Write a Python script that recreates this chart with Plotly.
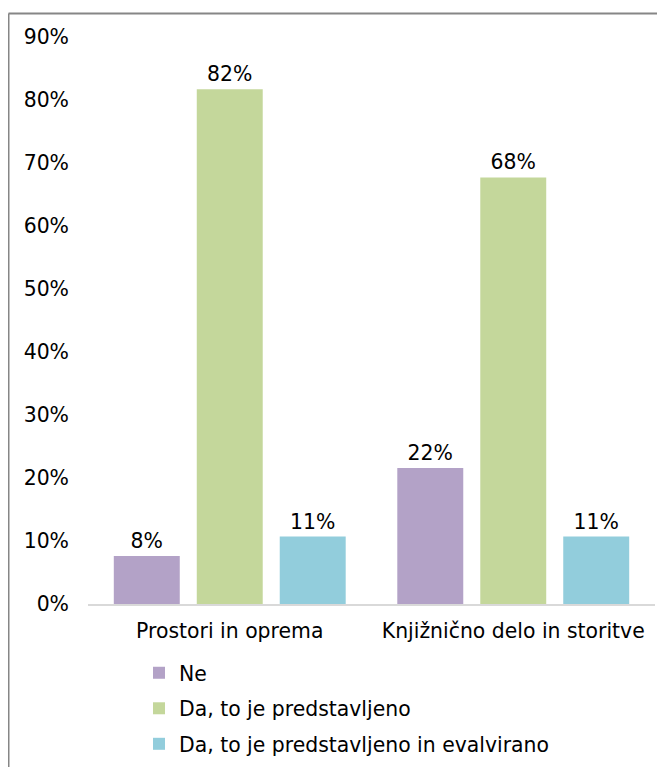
import plotly.graph_objects as go

categories = ["Prostori in oprema", "Knjižnično delo in storitve"]
series_names = ["Ne", "Da, to je predstavljeno", "Da, to je predstavljeno in evalvirano"]
ne_values = [7.6, 21.6]
da_values = [81.7, 67.7]
da_eval_values = [10.7, 10.7]
tick_vals = [0, 10, 20, 30, 40, 50, 60, 70, 80, 90]
tick_text = ["0%", "10%", "20%", "30%", "40%", "50%", "60%", "70%", "80%", "90%"]
colors = ["#B3A2C7", "#C4D79B", "#92CDDC"]

FONT = "DejaVu Sans"
FS = 20.4

fig = go.Figure()
for i, (name, vals) in enumerate(zip(series_names, [ne_values, da_values, da_eval_values])):
    fig.add_trace(go.Bar(
        x=categories, y=vals, name=name,
        marker=dict(color=colors[i], line=dict(width=0)),
        texttemplate="%{y:.0f}%", textposition="outside",
        textfont=dict(family=FONT, size=FS, color="#000000"),
        cliponaxis=False,
        legendgroup=f"g{i}",
    ))

# page has an 8px body margin: figure coords = page coords - 8
OFF = 8
W, H = 665, 767
L, R, T, B = 80, 18, 29, 171
pw = W - L - R
ph = H - T - B

def px(xp):
    return (xp - OFF - L) / pw

def py(yp):
    return (H - B - (yp - OFF)) / ph

fig.update_layout(
    width=W, height=H,
    margin=dict(l=L, r=R, t=T, b=B, autoexpand=False),
    paper_bgcolor="white", plot_bgcolor="white",
    font=dict(family=FONT, size=FS, color="#000000"),
    barmode="group", bargap=0.122, bargroupgap=0.205,
    showlegend=True,
    legend=dict(
        orientation="v", x=px(139), xanchor="left",
        y=py(653), yanchor="top",
        font=dict(family=FONT, size=FS, color="#000000"),
        tracegroupgap=6, bgcolor="rgba(0,0,0,0)",
    ),
    xaxis=dict(
        showgrid=False, showline=True, linecolor="#D9D9D9", linewidth=1.5,
        ticks="", tickfont=dict(family=FONT, size=FS), ticklabelstandoff=8,
        automargin=False,
    ),
    yaxis=dict(
        range=[0, 90], tickvals=tick_vals, ticktext=tick_text,
        showgrid=False, showline=False, zeroline=False, ticks="",
        tickfont=dict(family=FONT, size=FS), ticklabelstandoff=18,
        automargin=False,
    ),
    shapes=[
        dict(type="line", xref="paper", yref="paper",
             x0=px(8.5), x1=px(720), y0=py(13.5), y1=py(13.5),
             line=dict(color="#868686", width=2)),
        dict(type="line", xref="paper", yref="paper",
             x0=px(8.5), x1=px(8.5), y0=py(13.5), y1=py(800),
             line=dict(color="#868686", width=2)),
    ],
)

fig.write_html("out.html")
